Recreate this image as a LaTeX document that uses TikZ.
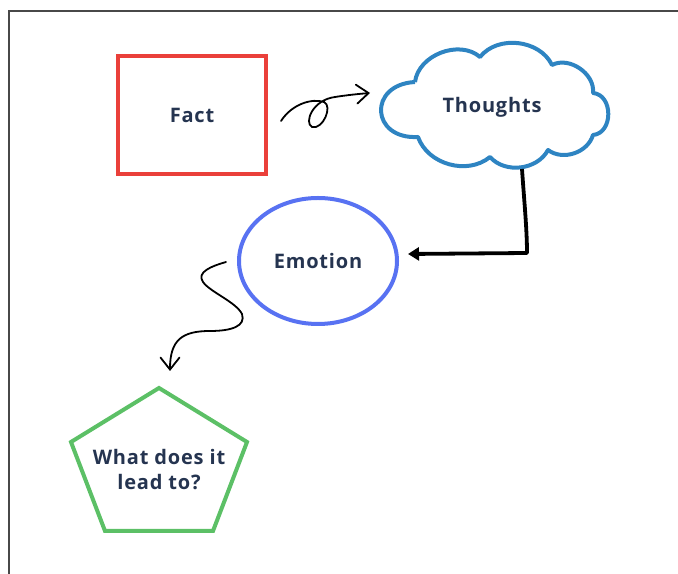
\documentclass[tikz,border=0pt]{standalone}
\usepackage{fontspec}
\setmainfont{Open Sans}[LetterSpace=4]
\usetikzlibrary{arrows.meta,calc,shapes.geometric}

\definecolor{factred}{RGB}{234,64,58}
\definecolor{cloudblue}{RGB}{46,132,194}
\definecolor{emoblue}{RGB}{88,114,242}
\definecolor{leadgreen}{RGB}{92,192,102}
\definecolor{ink}{RGB}{37,52,80}
\definecolor{framegray}{RGB}{72,72,72}

\begin{document}
\begin{tikzpicture}[x=1bp,y=1bp,
  txt/.style={text=ink, font=\bfseries\fontsize{20bp}{25bp}\selectfont},
  outline/.style={line width=4bp},
  hand/.style={line width=1.8bp, line cap=round, line join=round},
  barb/.style={-{Straight Barb[length=12bp,width=19bp,line cap=round]}},
  bold arrow/.style={line width=3.8bp, line join=round, -{Triangle[length=11bp,width=13bp]}},
]
\useasboundingbox (0,0) rectangle (678,574);

% page frame
\draw[framegray, line width=1.5bp] (678,563) -- (9,563) -- (9,0);

% Fact box
\node[txt, draw=factred, outline, minimum width=148bp, minimum height=118bp, inner sep=0]
  (fact) at (192,459) {Fact};

% Thoughts cloud
\node[txt, anchor=base] (thoughts) at (492,461) {Thoughts};
\coordinate (c1) at (415,492);
\coordinate (c2) at (480,517);
\coordinate (c3) at (552,509);
\coordinate (c4) at (593,481);
\coordinate (c5) at (593,439);
\coordinate (c6) at (548,424);
\coordinate (c7) at (490,417);
\coordinate (c8) at (418,437);
\draw[cloudblue, outline, line join=round]
  (c1) to[bend left=62] (c2) to[bend left=58] (c3) to[bend left=62] (c4)
  to[bend left=85, looseness=1.25] (c5) to[bend left=55] (c6) to[bend left=55] (c7)
  to[bend left=55] (c8) to[bend left=90, looseness=2.2] (c1);

% Emotion ellipse
\node[txt, draw=emoblue, outline, ellipse, minimum width=158bp, minimum height=126bp, inner sep=0]
  (emotion) at (318,313) {Emotion};

% Pentagon
\node[txt, align=center] (lead) at (159,104) {What does it\\lead to?};
\coordinate (p1) at (159,186);
\coordinate (p2) at (247,132);
\coordinate (p3) at (213,43);
\coordinate (p4) at (105,43);
\coordinate (p5) at (71,132);
\draw[leadgreen, outline, line join=miter] (p1) -- (p2) -- (p3) -- (p4) -- (p5) -- cycle;

% Fact -> Thoughts: looped hand-drawn arrow
\coordinate (f2t) at (370,481);
\draw[hand, barb] ($(fact.east)+(13,-6)$)
  .. controls (292,470) and (312,476) .. (324,472)
  .. controls (333,468) and (323,444) .. (312,447)
  .. controls (304,451) and (312,474) .. (335,477)
  .. controls (348,479) and (358,480) .. (f2t);

% Thoughts -> Emotion: bold elbow arrow
\coordinate (t2e) at (522,405);
\draw[bold arrow] (t2e) .. controls (524,375) and (527,345) .. (527,321)
  -- ($(emotion.east)+(9,7)$);

% Emotion -> What does it lead to?: wavy hand-drawn arrow
\draw[hand, barb] ($(emotion.west)+(-11,-1)$)
  .. controls (212,308) and (196,302) .. (203,292)
  .. controls (210,282) and (236,272) .. (242,260)
  .. controls (246,248) and (232,243) .. (210,243)
  .. controls (182,243) and (170,234) .. ($(p1)+(11,17)$);
\end{tikzpicture}
\end{document}
